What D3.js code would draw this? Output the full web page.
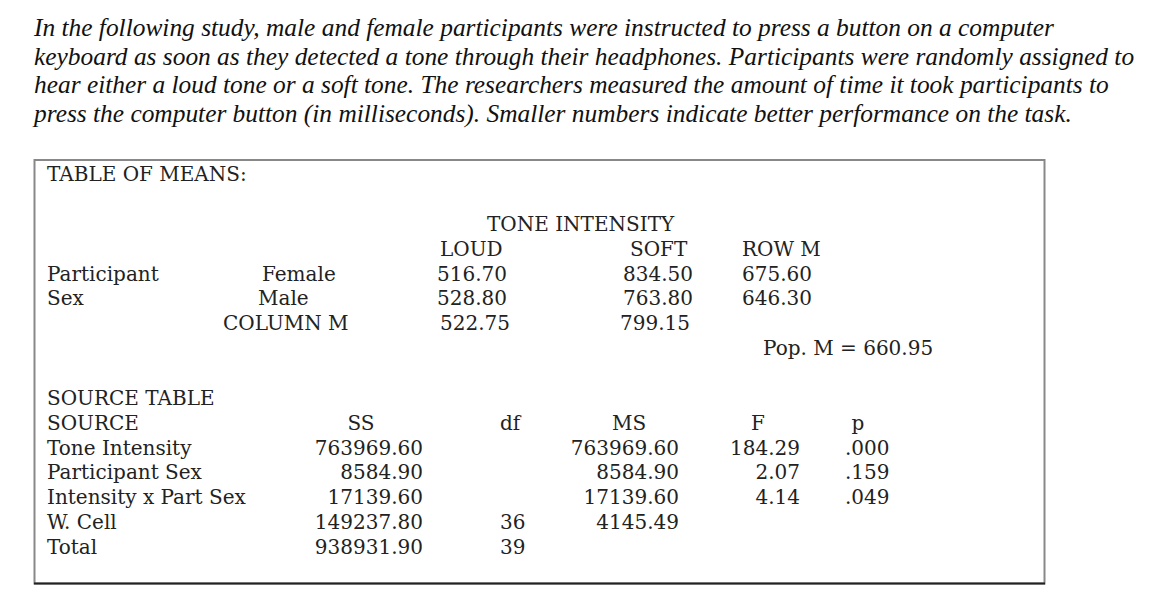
<!DOCTYPE html>
<html lang="en">
  <head>
    <meta charset="utf-8">
    <script src="https://cdnjs.cloudflare.com/ajax/libs/d3/7.8.5/d3.min.js"></script>
    <style>
      body { margin: 0; background: #fff; }
      .intro text {
        font-family: "Liberation Serif", serif;
        font-style: italic;
        font-size: 25.4px;
        fill: #111;
      }
      .tbl text {
        font-family: "DejaVu Serif", serif;
        font-size: 20px;
        fill: #222;
      }
    </style>
  </head>

  <body>

  <script>
  var width = 1160,
      height = 610;

  // intro paragraph
  var introLines = [
    'In the following study, male and female participants were instructed to press a button on a computer',
    'keyboard as soon as they detected a tone through their headphones. Participants were randomly assigned to',
    'hear either a loud tone or a soft tone. The researchers measured the amount of time it took participants to',
    'press the computer button (in milliseconds). Smaller numbers indicate better performance on the task.'
  ];

  // table of means
  var toneLevels = ['LOUD', 'SOFT', 'ROW M'];
  var sexLevels = ['Female', 'Male', 'COLUMN M'];
  var loudMeans = ['516.70', '528.80', '522.75'];
  var softMeans = ['834.50', '763.80', '799.15'];
  var rowMeans = ['675.60', '646.30'];
  var popMean = 'Pop. M = 660.95';

  // source table
  var sourceHeaders = ['SOURCE', 'SS', 'df', 'MS', 'F', 'p'];
  var sources = ['Tone Intensity', 'Participant Sex', 'Intensity x Part Sex', 'W. Cell', 'Total'];
  var ssValues = ['763969.60', '8584.90', '17139.60', '149237.80', '938931.90'];
  var dfValues = ['', '', '', '36', '39'];
  var msValues = ['763969.60', '8584.90', '17139.60', '4145.49', ''];
  var fValues = ['184.29', '2.07', '4.14', '', ''];
  var pValues = ['.000', '.159', '.049', '', ''];

  var svg = d3.select('body')
    .append('svg')
    .attr('width', width)
    .attr('height', height);

  var introY = d3.scaleLinear().domain([0, 1]).range([36, 64.5]);

  svg.append('g')
    .attr('class', 'intro')
    .selectAll('text')
    .data(introLines)
    .enter().append('text')
      .attr('x', 34)
      .attr('y', (d, i) => introY(i))
      .text(d => d);

  // box
  svg.append('rect')
    .attr('x', 34.5)
    .attr('y', 160)
    .attr('width', 1010)
    .attr('height', 423.5)
    .attr('fill', 'none')
    .attr('stroke', '#888')
    .attr('stroke-width', 2);
  svg.append('line')
    .attr('x1', 34).attr('x2', 1045)
    .attr('y1', 583.5).attr('y2', 583.5)
    .attr('stroke', '#222')
    .attr('stroke-width', 2);

  var tbl = svg.append('g').attr('class', 'tbl');

  function put(x, y, txt, anchor) {
    tbl.append('text')
      .attr('x', x)
      .attr('y', y)
      .attr('text-anchor', anchor || 'start')
      .text(txt);
  }

  // means section rows
  var meanY = d3.scaleLinear().domain([0, 1]).range([231, 255.8]);

  put(47, 181, 'TABLE OF MEANS:');
  put(487, meanY(0), 'TONE INTENSITY');

  var colX = d3.scaleOrdinal().domain(toneLevels).range([440, 630, 742]);
  tbl.selectAll('.tone')
    .data(toneLevels)
    .enter().append('text')
      .attr('x', d => colX(d))
      .attr('y', meanY(1))
      .text(d => d);

  put(47, meanY(2), 'Participant');
  put(47, meanY(3), 'Sex');

  var sexX = d3.scaleOrdinal().domain(sexLevels).range([262, 258, 223]);
  tbl.selectAll('.sex')
    .data(sexLevels)
    .enter().append('text')
      .attr('x', d => sexX(d))
      .attr('y', (d, i) => meanY(i + 2))
      .text(d => d);

  tbl.selectAll('.loud')
    .data(loudMeans)
    .enter().append('text')
      .attr('x', (d, i) => i === 2 ? 440 : 437)
      .attr('y', (d, i) => meanY(i + 2))
      .text(d => d);

  tbl.selectAll('.soft')
    .data(softMeans)
    .enter().append('text')
      .attr('x', (d, i) => i === 2 ? 690 : 693)
      .attr('y', (d, i) => meanY(i + 2))
      .attr('text-anchor', 'end')
      .text(d => d);

  tbl.selectAll('.rowm')
    .data(rowMeans)
    .enter().append('text')
      .attr('x', 742)
      .attr('y', (d, i) => meanY(i + 2))
      .text(d => d);

  put(763, meanY(5), popMean);

  // source table
  var srcY = d3.scaleLinear().domain([0, 1]).range([405, 429.8]);
  put(47, srcY(0), 'SOURCE TABLE');

  var hdr = [
    { x: 47, a: 'start' },
    { x: 361, a: 'middle' },
    { x: 500, a: 'start' },
    { x: 629, a: 'middle' },
    { x: 758, a: 'middle' },
    { x: 858, a: 'middle' }
  ];
  tbl.selectAll('.hdr')
    .data(sourceHeaders)
    .enter().append('text')
      .attr('x', (d, i) => hdr[i].x)
      .attr('y', srcY(1))
      .attr('text-anchor', (d, i) => hdr[i].a)
      .text(d => d);

  var cols = [
    { vals: sources, x: 47, a: 'start' },
    { vals: ssValues, x: 423, a: 'end' },
    { vals: dfValues, x: 500, a: 'start' },
    { vals: msValues, x: 679, a: 'end' },
    { vals: fValues, x: 800, a: 'end' },
    { vals: pValues, x: 845, a: 'start' }
  ];
  cols.forEach(c => {
    tbl.append('g').selectAll('text')
      .data(c.vals)
      .enter().append('text')
        .attr('x', c.x)
        .attr('y', (d, i) => srcY(i + 2))
        .attr('text-anchor', c.a)
        .text(d => d);
  });

  </script>
  </body>
</html>
